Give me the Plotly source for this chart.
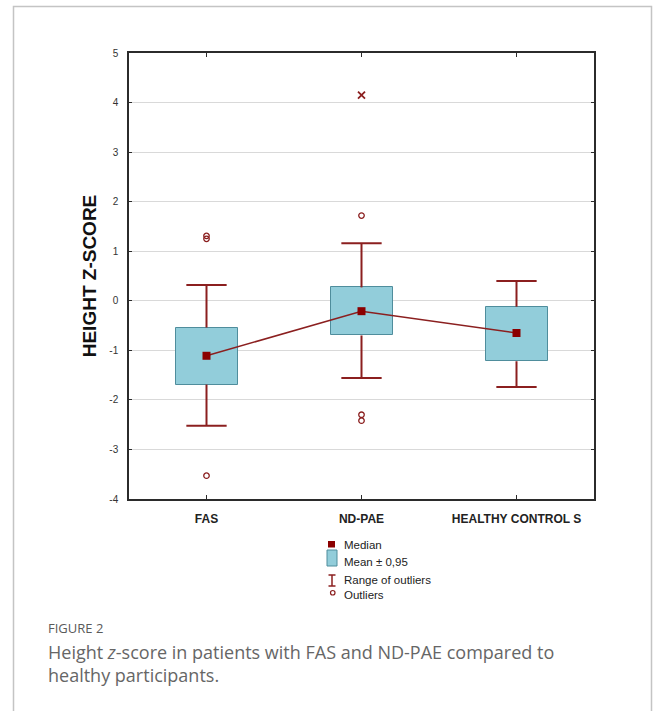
import plotly.graph_objects as go

# Group labels and summary statistics (height z-score)
groups = ["FAS", "ND-PAE", "HEALTHY CONTROL S"]
medians = [-1.11, -0.21, -0.65]
box_low = [-1.69, -0.70, -1.22]      # mean - 0.95 band
box_high = [-0.54, 0.27, -0.12]      # mean + 0.95 band
whisker_low = [-2.52, -1.56, -1.74]
whisker_high = [0.32, 1.16, 0.40]

# Outliers (group index, value) and extremes
outlier_group = [0, 0, 0, 1, 1, 1]
outlier_value = [1.31, 1.25, -3.53, 1.72, -2.30, -2.42]
extreme_group = [1]
extreme_value = [4.15]

y_ticks = [5, 4, 3, 2, 1, 0, -1, -2, -3, -4]
y_tick_text = ["5", "4", "3", "2", "1", "0", "-1", "-2", "-3", "-4"]

DARK_RED = "#8b1f1f"
BOX_FILL = "#92cdda"
BOX_LINE = "#4f8d9c"
CAP_HALF = 0.13

# plot-area geometry (pixels) used to place the legend and caption
L, R, T, B = 129, 594, 53, 499
W_FIG, H_FIG = 656, 711


def px(x):
    return (x - L) / (R - L)


def py(y):
    return (B - y) / (B - T)


xs = list(range(len(groups)))

fig = go.Figure()

# Mean +/- 0.95 boxes
fig.add_trace(go.Bar(
    x=xs,
    y=[h - l for h, l in zip(box_high, box_low)],
    base=box_low,
    width=0.4,
    marker=dict(color=BOX_FILL, line=dict(color=BOX_LINE, width=1)),
    showlegend=False,
    hoverinfo="skip",
))

# Whiskers (range of non-outliers) with caps
wx, wy = [], []
for i in xs:
    wx += [i, i, None, i, i, None]
    wy += [box_high[i], whisker_high[i], None, box_low[i], whisker_low[i], None]
    wx += [i - CAP_HALF, i + CAP_HALF, None, i - CAP_HALF, i + CAP_HALF, None]
    wy += [whisker_high[i], whisker_high[i], None, whisker_low[i], whisker_low[i], None]
fig.add_trace(go.Scatter(
    x=wx, y=wy, mode="lines",
    line=dict(color=DARK_RED, width=2),
    showlegend=False, hoverinfo="skip",
))

# Medians joined by a line
fig.add_trace(go.Scatter(
    x=xs, y=medians, mode="lines+markers",
    line=dict(color=DARK_RED, width=1.5),
    marker=dict(symbol="square", size=8, color="#8b0000"),
    showlegend=False,
))

# Outliers
fig.add_trace(go.Scatter(
    x=outlier_group, y=outlier_value, mode="markers",
    marker=dict(symbol="circle-open", size=5.5, color=DARK_RED, line=dict(width=1.3)),
    showlegend=False,
))

# Extremes
fig.add_trace(go.Scatter(
    x=extreme_group, y=extreme_value, mode="markers",
    marker=dict(symbol="x-thin-open", size=7, color=DARK_RED, line=dict(width=1.8)),
    showlegend=False,
))

shapes = []
annotations = []

# Card border
shapes.append(dict(
    type="rect", xref="paper", yref="paper",
    x0=px(13.5), x1=px(651.5), y0=py(730), y1=py(6.5),
    line=dict(color="#c4c4c4", width=1.5), fillcolor="rgba(0,0,0,0)",
    layer="below",
))

# Legend
leg_text_x = px(342)
legend_font = dict(family="Liberation Sans, Arial", size=11.5, color="#222")
# Median symbol
shapes.append(dict(type="rect", xref="paper", yref="paper",
                   x0=px(328), x1=px(335), y0=py(547.5), y1=py(541),
                   fillcolor="#8b0000", line=dict(width=0)))
# Mean box symbol
shapes.append(dict(type="rect", xref="paper", yref="paper",
                   x0=px(327), x1=px(337), y0=py(566), y1=py(550),
                   fillcolor=BOX_FILL, line=dict(color=BOX_LINE, width=1)))
# Range symbol (I-beam)
shapes.append(dict(type="line", xref="paper", yref="paper",
                   x0=px(332), x1=px(332), y0=py(586), y1=py(575),
                   line=dict(color=DARK_RED, width=1.5)))
shapes.append(dict(type="line", xref="paper", yref="paper",
                   x0=px(328.5), x1=px(335.5), y0=py(575), y1=py(575),
                   line=dict(color=DARK_RED, width=1.5)))
shapes.append(dict(type="line", xref="paper", yref="paper",
                   x0=px(328.5), x1=px(335.5), y0=py(586), y1=py(586),
                   line=dict(color=DARK_RED, width=1.5)))
# Outlier symbol
shapes.append(dict(type="circle", xref="paper", yref="paper",
                   x0=px(330.5), x1=px(335), y0=py(595), y1=py(590.5),
                   line=dict(color=DARK_RED, width=1.2)))

legend_labels = ["Median", "Mean ± 0,95", "Range of outliers", "Outliers"]
legend_y = [545, 562, 580, 595]
for lab, yy in zip(legend_labels, legend_y):
    annotations.append(dict(
        text=lab, xref="paper", yref="paper", x=leg_text_x, y=py(yy),
        xanchor="left", yanchor="middle", showarrow=False, font=legend_font,
    ))

# Caption
annotations.append(dict(
    text="FIGURE 2", xref="paper", yref="paper", x=px(46), y=py(628),
    xanchor="left", yanchor="middle", showarrow=False,
    font=dict(family="Open Sans", size=13, color="#5a5a5a"),
))
annotations.append(dict(
    text="Height <i>z</i>-score in patients with FAS and ND-PAE compared to<br>healthy participants.",
    xref="paper", yref="paper", x=px(46), y=py(638),
    xanchor="left", yanchor="top", align="left", showarrow=False,
    font=dict(family="Open Sans", size=18, color="#666666"),
))

fig.update_layout(
    width=W_FIG, height=H_FIG,
    margin=dict(l=L, r=W_FIG - R, t=T, b=H_FIG - B, pad=0),
    paper_bgcolor="white", plot_bgcolor="white",
    shapes=shapes, annotations=annotations,
    showlegend=False,
    bargap=0,
)

fig.update_xaxes(
    range=[-0.5, 2.5], tickvals=xs, ticktext=groups,
    showgrid=False, zeroline=False,
    showline=True, linecolor="#2b2b2b", linewidth=1.5, mirror="allticks",
    ticks="inside", ticklen=4, tickcolor="#2b2b2b",
    ticklabelstandoff=8,
    tickfont=dict(family="Liberation Sans, Arial", size=12, color="#222", weight="bold"),
)

fig.update_yaxes(
    range=[-4, 5], tickvals=y_ticks, ticktext=y_tick_text,
    showgrid=True, gridcolor="#d9d9d9", gridwidth=1, zeroline=False,
    showline=True, linecolor="#2b2b2b", linewidth=1.5, mirror="allticks",
    ticks="inside", ticklen=3, tickcolor="#2b2b2b",
    ticklabelstandoff=7,
    tickfont=dict(family="Liberation Sans, Arial", size=10, color="#333"),
    title=dict(text="HEIGHT Z-SCORE", standoff=8,
               font=dict(family="Liberation Sans, Arial", size=19, color="#111", weight="bold")),
)

fig.write_html("out.html")
